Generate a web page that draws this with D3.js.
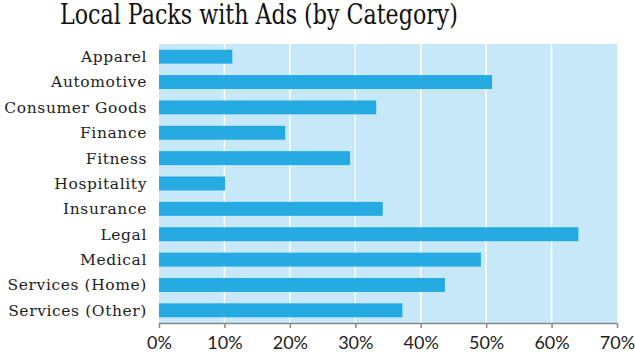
<!DOCTYPE html>
<html>
<head>
<meta charset="utf-8">
<style>
    body { margin: 0; background: #fff; }
    .title { font-family: "DejaVu Serif", serif; font-size: 27px; fill: #111; }
    .cat text { font-family: "DejaVu Serif", serif; font-size: 15.5px; letter-spacing: 0.6px; fill: #222; }
    .xaxis text { font-family: Lato, "Noto Sans", sans-serif; font-size: 18px; fill: #222; }
</style>
</head>
<body>
<script src="https://cdn.jsdelivr.net/npm/d3@7"></script>
<script>

    var categories = ["Apparel", "Automotive", "Consumer Goods", "Finance", "Fitness", "Hospitality",
        "Insurance", "Legal", "Medical", "Services (Home)", "Services (Other)"];
    var values = [11.2, 50.9, 33.2, 19.3, 29.2, 10.1, 34.2, 64.1, 49.2, 43.7, 37.2];
    var ticks = [0, 10, 20, 30, 40, 50, 60, 70];

    var width = 635,
        height = 353;
    var margin = { top: 44, right: 18, bottom: 30, left: 159 };

    var svg = d3.select("body").append("svg")
        .attr("width", width)
        .attr("height", height);

    // title squeezed to the width it has in the original
    svg.append("text")
        .attr("class", "title")
        .attr("x", 60)
        .attr("y", 24)
        .attr("textLength", 398)
        .attr("lengthAdjust", "spacingAndGlyphs")
        .text("Local Packs with Ads (by Category)");

    var x = d3.scaleLinear().domain([0, 70]).range([margin.left, 617]);
    var y = d3.scaleBand().domain(categories).range([margin.top, 323]).paddingInner(0.45).paddingOuter(0.225);

    // plot background
    svg.append("rect")
        .attr("x", x(0))
        .attr("y", margin.top)
        .attr("width", x(70) - x(0))
        .attr("height", 323 - margin.top)
        .attr("fill", "#c7e8f8");

    // white grid lines
    svg.append("g").selectAll("line")
        .data(ticks.slice(1, -1))
        .join("line")
        .attr("x1", function (d) { return x(d); })
        .attr("x2", function (d) { return x(d); })
        .attr("y1", margin.top)
        .attr("y2", 323)
        .attr("stroke", "#fff")
        .attr("stroke-width", 1.5);

    svg.append("g").selectAll("rect")
        .data(values)
        .join("rect")
        .attr("x", x(0))
        .attr("y", function (d, i) { return y(categories[i]); })
        .attr("width", function (d) { return x(d) - x(0); })
        .attr("height", y.bandwidth())
        .attr("fill", "#25abe2");

    // category labels
    svg.append("g").attr("class", "cat").selectAll("text")
        .data(categories)
        .join("text")
        .attr("x", 147)
        .attr("y", function (d) { return y(d) + y.bandwidth() / 2; })
        .attr("dy", "0.35em")
        .attr("text-anchor", "end")
        .text(function (d) { return d; });

    var xAxis = d3.axisBottom(x)
        .tickValues(ticks)
        .tickFormat(function (d) { return d + "%"; })
        .tickSize(5)
        .tickSizeOuter(0)
        .tickPadding(8);

    var gx = svg.append("g")
        .attr("class", "xaxis")
        .attr("transform", "translate(0,323)")
        .call(xAxis);
    gx.select(".domain").attr("stroke", "#888").attr("stroke-width", 1.5);
    gx.selectAll(".tick line").attr("stroke", "#888").attr("stroke-width", 1.5);

</script>
</body>
</html>
